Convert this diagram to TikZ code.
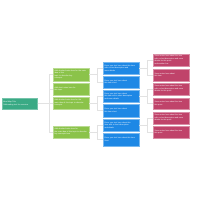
\documentclass[tikz,border=0pt]{standalone}
\usepackage{fontspec}
\setmainfont{Liberation Sans}
\definecolor{cteal}{HTML}{3AAA85}
\definecolor{cgreen}{HTML}{8BC34A}
\definecolor{cblue}{HTML}{1E88E5}
\definecolor{cred}{HTML}{C0436A}
\definecolor{cline}{HTML}{E2E2E2}
\begin{document}
\begin{tikzpicture}[x=1pt,y=-1pt,
  box/.style={rectangle, inner sep=1.2pt, text=white, align=left, text width=33pt,
    font=\fontsize{1.9}{2.5}\selectfont, minimum width=36pt, anchor=west},
  rootbox/.style={box, fill=cteal, draw=cteal!70!white, line width=0.3pt},
  gbox/.style={box, fill=cgreen, draw=cgreen!60!white, line width=0.3pt},
  bbox/.style={box, fill=cblue, draw=cblue!60!white, line width=0.3pt},
  rbox/.style={box, fill=cred, draw=cred!60!white, line width=0.3pt},
  conn/.style={draw=cline, line width=0.4pt}]
\useasboundingbox (0,0) rectangle (200,200);
\fill[white] (0,0) rectangle (200,200);
% root
\node[rootbox, minimum height=11pt, minimum width=35pt] (root) at (2,103.5) {Mind Map Title\\Subheading text for overview};
% green
\node[gbox, minimum height=13pt] (g1) at (53,74.5) {Add detailed notes here for the main idea of this\\topic to describe key\\concepts};
\node[gbox, minimum height=12pt] (g2) at (53,89) {Add short notes here for\\this topic};
\node[gbox, minimum height=12pt] (g3) at (53,103) {Add detailed notes here for the\\main idea of this topic to describe\\concepts};
\node[gbox, minimum height=12pt] (g4) at (53,132) {Add detailed notes here for\\the main idea of this topic to describe\\key concepts here};
% blue
\node[bbox, minimum height=12pt] (b1) at (103,68) {Enter your text here about this item\\with a short description and\\more details};
\node[bbox, minimum height=12pt] (b2) at (103,82) {Enter your text here about\\this item short};
\node[bbox, minimum height=12pt] (b3) at (103,96) {Enter your text here about\\this item with a short description\\and more details};
\node[bbox, minimum height=13pt] (b4) at (103,110.5) {Enter your text here about\\this item short};
\node[bbox, minimum height=12pt] (b5) at (103,125) {Enter your text here about this\\item with a short description\\and details};
\node[bbox, minimum height=13pt] (b6) at (103,139.5) {Enter your text here about this item\\short};
% red
\node[rbox, minimum height=12pt] (r1) at (153,60) {Some notes here about the item\\with a short description and more\\details for this point\\and another line};
\node[rbox, minimum height=12pt] (r2) at (153,75) {Some notes here about\\this item};
\node[rbox, minimum height=12pt] (r3) at (153,89) {Some notes here about the item\\with a short description and more\\details for this point};
\node[rbox, minimum height=11pt] (r4) at (153,103.5) {Some notes here about the item\\this point};
\node[rbox, minimum height=12pt] (r5) at (153,118) {Some notes here about the item\\with a short description and more\\details for this point};
\node[rbox, minimum height=12pt] (r6) at (153,132) {Some notes here about the item\\this point};
% junction columns
\coordinate (j0) at (49,0);
\coordinate (j1) at (97,0);
\coordinate (j2) at (147,0);
% connectors root -> green
\foreach \c in {g1,g2,g3,g4} \draw[conn] (root.east) -| (j0 |- \c.west) -- (\c.west);
% green -> blue
\foreach \p/\c in {g1/b1,g1/b2,g3/b3,g3/b4,g4/b5,g4/b6}
  \draw[conn] (\p.east) -| (j1 |- \c.west) -- (\c.west);
% blue -> red
\foreach \p/\c in {b1/r1,b1/r2,b3/r3,b3/r4,b5/r5,b5/r6}
  \draw[conn] (\p.east) -| (j2 |- \c.west) -- (\c.west);
\end{tikzpicture}
\end{document}
